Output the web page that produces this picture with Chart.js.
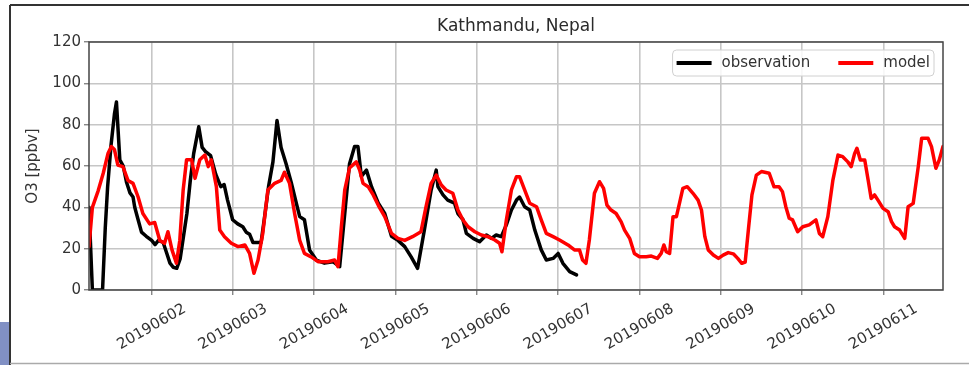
<!DOCTYPE html>
<html>
<head>
<meta charset="utf-8">
<title>Kathmandu, Nepal</title>
<script src="https://cdn.jsdelivr.net/npm/chart.js@4.4.1/dist/chart.umd.min.js"></script>
<style>
  body { margin: 0; background: #fff; }
  #wrap { position: relative; width: 969px; height: 365px; }
</style>
</head>
<body>
<div id="wrap"><canvas id="myChart"></canvas></div>
<script>
// x values are hours counted from 20190601 00:00
const chartTitle = "Kathmandu, Nepal";
const yTitle = "O3 [ppbv]";
const seriesNames = ["observation", "model"];
const tickLabels = ["20190602", "20190603", "20190604", "20190605", "20190606",
  "20190607", "20190608", "20190609", "20190610", "20190611"];
const xRange = [5.5, 257.6];
const yRange = [0, 120];
const yStep = 20;

const obsHours = [5.5, 6.5, 9.5, 10.3, 11, 12, 13, 13.6, 14.1, 14.6,
  15.6, 16.6, 17.6, 18.5, 19, 20, 21, 22.4, 24, 25,
  26, 27.4, 28.4, 29.4, 30.4, 31.4, 32.4, 33.4, 34.4, 35.4,
  36.4, 37.9, 38.9, 39.9, 41.4, 42.9, 44.4, 45.4, 46.4, 47.9,
  49.4, 50.9, 51.9, 52.9, 53.9, 56.3, 57.3, 58.5, 59.8, 61,
  62.2, 63.7, 65.2, 66.7, 67.7, 69.1, 70.6, 72.6, 75, 77.5,
  79.5, 81, 82.4, 83.9, 84.9, 85.9, 87.4, 88.9, 90.9, 92.8,
  94.8, 96.7, 98.7, 100.6, 102.5, 104.5, 106.5, 108, 108.5, 110,
  111.4, 113.4, 114.4, 115.9, 116.9, 118.9, 120.8, 122.8, 124.3, 125.7,
  127.2, 128.7, 130.2, 131.7, 132.6, 134.1, 135.6, 137.1, 139, 140.5,
  142.5, 144, 145.4, 147.4, 149.4];
const obsValues = [40, 0, 0, 30, 50, 70, 85, 91, 77, 63,
  60, 52, 47, 45, 40, 34, 28, 26, 24, 22,
  24, 23, 18, 13, 11, 10.5, 15, 26, 37, 53,
  66, 79, 69, 67, 65, 56, 50, 51, 43.5, 34,
  32, 30.6, 28, 27, 23, 23, 35, 50, 62, 82,
  69, 61, 52, 42, 35.5, 34, 19.4, 14.5, 13, 13.7,
  11.3, 37, 61, 69.4, 69.4, 55, 58, 50, 42, 37,
  26, 24, 21, 16, 10.5, 29, 48.4, 58, 50, 46,
  43.5, 42, 37, 34, 27.4, 25, 23.4, 26.6, 25, 26.6,
  25.8, 31.5, 38.7, 43.5, 45, 40.3, 38.7, 29, 19.4, 14.5,
  15.3, 17.7, 12.9, 8.9, 7.3];

const modelHours = [5.5, 6.5, 8.2, 9.7, 11.1, 12.1, 13, 14, 15.5, 17,
  18.5, 20, 21.4, 23.4, 24.9, 26.4, 27.8, 28.8, 30, 31.3,
  32.3, 33.3, 34.3, 35.8, 36.8, 38.2, 39.7, 40.7, 41.6, 43.1,
  44.1, 45.5, 47.5, 49.5, 51.5, 52.9, 54.2, 55.4, 56.8, 58.3,
  60.3, 62.2, 63.2, 64.7, 66.2, 67.7, 69.1, 71.1, 73.1, 76,
  78, 79, 80, 81, 82.4, 84.4, 85.4, 86.4, 87.9, 89.4,
  90.9, 92.8, 94.8, 96.7, 98.7, 101, 103.5, 105, 106.5, 108,
  109.5, 110.9, 112.9, 114.4, 115.9, 117.4, 119.4, 121.3, 123.3, 125.3,
  126.7, 127.4, 128.7, 130.2, 131.7, 132.6, 134.1, 135.6, 137.6, 139,
  140.5, 142.5, 144.4, 146.9, 148.8, 150.3, 151.2, 152.2, 153.2, 154.7,
  156.2, 157.4, 158.4, 159.6, 161.1, 162.6, 163.6, 165.1, 166.5, 168,
  170, 171.5, 173.3, 174.4, 175.2, 175.9, 176.9, 177.9, 178.9, 179.9,
  180.8, 182.1, 183.8, 185.3, 186.3, 187.3, 188.3, 189.8, 191.3, 192.7,
  194.2, 195.7, 197, 198.2, 199.2, 200.2, 201.2, 202.5, 204, 206.3,
  207.7, 209.2, 210.2, 211.2, 212.2, 213.2, 214.7, 216.2, 218.1, 220.1,
  221.1, 222.1, 223.6, 225.1, 226.6, 228, 229.5, 230.5, 231.5, 232.2,
  233.2, 234.5, 235.5, 236.4, 237.4, 238.4, 239.9, 241.4, 242.4, 243.3,
  244.8, 246.3, 247.3, 248.8, 250.3, 251.3, 253.2, 254.2, 255.5, 256.5,
  257.6];
const modelValues = [21, 40, 48, 56.5, 66, 69.4, 68, 60.5, 59.7, 53,
  51.6, 45, 37, 32, 32.7, 24, 22.6, 28.2, 19.4, 13,
  24, 48.4, 63, 63, 54, 63, 65.3, 59.7, 63, 50,
  29, 25.8, 22.6, 21, 21.8, 17.7, 8.1, 14.5, 27.4, 48.4,
  51.6, 53, 57, 51.6, 37, 24, 17.7, 16, 13.7, 13.7,
  14.5, 11.3, 30.6, 48.4, 59, 62, 58, 51.6, 50, 46,
  41, 35.5, 27.4, 25, 24, 25.8, 28.2, 40.3, 51.6, 55.6,
  50.8, 48.4, 46.8, 38.7, 33.9, 30.6, 28.2, 26.6, 25.8, 24.2,
  22.6, 18.5, 33.9, 48.4, 54.8, 54.8, 48.4, 42, 40.3, 33.9,
  27.4, 25.8, 24.2, 21.8, 19.4, 19.4, 14.5, 12.9, 24.2, 46.8,
  52.4, 49.2, 41.1, 38.7, 37, 33, 29, 25, 17.7, 16.1,
  16.1, 16.4, 15.3, 17.7, 21.8, 18.5, 17.7, 35.5, 35.5, 42.6,
  49.2, 50, 46.8, 43.5, 38.7, 25.8, 19.4, 16.9, 15.3, 16.9,
  18.1, 17.5, 15.3, 12.9, 13.5, 30, 46, 55.6, 57.3, 56.5,
  50, 50, 47.6, 40.3, 34.7, 33.9, 28.2, 30.6, 31.5, 33.9,
  27.4, 25.8, 35.5, 53.2, 65.3, 64.5, 62, 59.7, 66, 68.6,
  62.9, 62.9, 53.2, 44.3, 46, 43.5, 39.5, 37.9, 33.1, 30.6,
  29, 25, 40.3, 41.9, 59.7, 73.4, 73.4, 69.4, 58.9, 62.9,
  69.4];

const FONT = "DejaVu Sans";

function toPoints(hours, values) {
  return hours.map((h, i) => ({ x: h, y: values[i] }));
}

// title, legend box inside the axes, centred rotated date labels and the figure frame
const extras = {
  id: "extras",
  afterDraw(chart) {
    const ctx = chart.ctx;
    const a = chart.chartArea;
    const xs = chart.scales.x;
    ctx.save();

    // leftover frame of the screenshot
    ctx.fillStyle = "#8190c4";
    ctx.fillRect(0, 322, 10, 43);
    ctx.strokeStyle = "#333";
    ctx.lineWidth = 2;
    ctx.beginPath();
    ctx.moveTo(10, 5); ctx.lineTo(969, 5);
    ctx.moveTo(10, 5); ctx.lineTo(10, 365);
    ctx.stroke();
    ctx.strokeStyle = "#aaa";
    ctx.lineWidth = 1.5;
    ctx.beginPath();
    ctx.moveTo(10, 363.5); ctx.lineTo(969, 363.5);
    ctx.stroke();

    // axes box
    ctx.strokeStyle = "#444";
    ctx.lineWidth = 1.5;
    ctx.strokeRect(a.left, a.top, a.right - a.left, a.bottom - a.top);

    // title
    ctx.fillStyle = "#2a2a2a";
    ctx.font = "17px '" + FONT + "'";
    ctx.textAlign = "center";
    ctx.textBaseline = "middle";
    ctx.fillText(chartTitle, (a.left + a.right) / 2, 27);

    // x tick labels, rotated 30 degrees and centred on their tick
    ctx.font = "15px '" + FONT + "'";
    ctx.fillStyle = "#333";
    xs.ticks.forEach(t => {
      const label = tickLabels[t.value / 24 - 1];
      if (!label) return;
      ctx.save();
      ctx.translate(xs.getPixelForValue(t.value), a.bottom + 37);
      ctx.rotate(-Math.PI / 6);
      ctx.fillText(label, 0, 0);
      ctx.restore();
    });

    // legend
    const sets = chart.data.datasets;
    const widths = sets.map(d => ctx.measureText(d.label).width);
    let boxW = 8;
    widths.forEach((w, i) => { boxW += 45 + w + (i < widths.length - 1 ? 28 : 0); });
    const bx = a.right - 9 - boxW;
    const by = a.top + 8;
    const bh = 26;
    ctx.beginPath();
    if (ctx.roundRect) ctx.roundRect(bx, by, boxW, bh, 4); else ctx.rect(bx, by, boxW, bh);
    ctx.fillStyle = "rgba(255,255,255,0.85)";
    ctx.fill();
    ctx.strokeStyle = "#d0d0d0";
    ctx.lineWidth = 1;
    ctx.stroke();
    let cx = bx + 4;
    const cy = by + bh / 2;
    ctx.textAlign = "left";
    sets.forEach((d, i) => {
      ctx.strokeStyle = d.borderColor;
      ctx.lineWidth = 4;
      ctx.beginPath();
      ctx.moveTo(cx, cy); ctx.lineTo(cx + 35, cy);
      ctx.stroke();
      ctx.fillStyle = "#333";
      ctx.fillText(d.label, cx + 45, cy);
      cx += 45 + widths[i] + 28;
    });

    ctx.restore();
  }
};

const ctx = document.getElementById("myChart");
new Chart(ctx, {
  type: "line",
  data: {
    datasets: [
      {
        label: seriesNames[0],
        data: toPoints(obsHours, obsValues),
        borderColor: "#000000",
        borderWidth: 3.5,
        borderJoinStyle: "round",
        borderCapStyle: "round",
        pointRadius: 0,
        order: 1,
      },
      {
        label: seriesNames[1],
        data: toPoints(modelHours, modelValues),
        borderColor: "#ff0000",
        borderWidth: 3.5,
        borderJoinStyle: "round",
        borderCapStyle: "round",
        pointRadius: 0,
        order: 0,
      },
    ],
  },
  options: {
    responsive: true,
    maintainAspectRatio: false,
    animation: false,
    layout: { padding: { top: 42, right: 26, left: 0, bottom: 0 } },
    plugins: {
      legend: { display: false },
      tooltip: { enabled: false },
    },
    scales: {
      x: {
        type: "linear",
        min: xRange[0],
        max: xRange[1],
        ticks: { stepSize: 24, display: false },
        afterBuildTicks: s => { s.ticks = s.ticks.filter(t => t.value % 24 === 0); },
        afterFit: s => { s.height = 75; },
        grid: { color: "#c6c6c6", lineWidth: 1.6, tickLength: 5, tickColor: "#555", tickWidth: 1 },
        border: { display: false },
      },
      y: {
        min: yRange[0],
        max: yRange[1],
        ticks: {
          stepSize: yStep,
          padding: 3,
          color: "#333",
          font: { family: FONT, size: 15 },
        },
        afterFit: s => { s.width = 89; },
        title: {
          display: true,
          text: yTitle,
          color: "#333",
          font: { family: FONT, size: 15 },
          padding: { top: 24, bottom: 0 },
        },
        grid: { color: "#c6c6c6", lineWidth: 1.6, tickLength: 5, tickColor: "#555", tickWidth: 1 },
        border: { display: false },
      },
    },
  },
  plugins: [extras],
});
</script>
</body>
</html>
